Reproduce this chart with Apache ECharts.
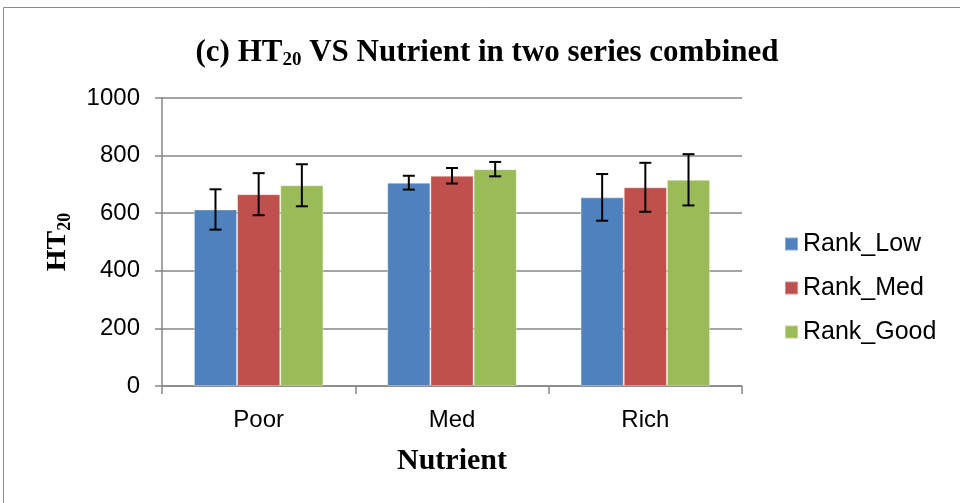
<!DOCTYPE html>
<html>
<head>
<meta charset="utf-8">
<script src="https://cdn.jsdelivr.net/npm/echarts@6/dist/echarts.min.js"></script>
<style>
  html, body { margin: 0; padding: 0; background: #fff; }
  #chart { width: 960px; height: 503px; }
</style>
</head>
<body>
<div id="chart"></div>
<script>
// data
const categories = ["Poor", "Med", "Rich"];
const seriesNames = ["Rank_Low", "Rank_Med", "Rank_Good"];
const lowValues = [613, 706, 655];
const medValues = [666, 730, 690];
const goodValues = [697, 753, 716];
const lowErr = [70, 24, 81];
const medErr = [73, 27, 85];
const goodErr = [73, 25, 89];
const yTicks = [0, 200, 400, 600, 800, 1000];

const colors = ["#4f81bd", "#c0504d", "#9bbb59"];
const values = [lowValues, medValues, goodValues];
const errors = [lowErr, medErr, goodErr];
const catGap = 0.33;

const chart = echarts.init(document.getElementById("chart"));

function errorSeries(idx) {
  return {
    type: "custom",
    name: seriesNames[idx] + "_err",
    z: 10,
    silent: true,
    data: categories.map((c, i) => [i, values[idx][i] - errors[idx][i], values[idx][i] + errors[idx][i]]),
    renderItem: function (params, api) {
      const ci = api.value(0);
      const lo = api.coord([ci, api.value(1)]);
      const hi = api.coord([ci, api.value(2)]);
      const bandW = api.size([1, 0])[0];
      const barW = bandW * (1 - catGap) / 3;
      const x = lo[0] + (idx - 1) * barW;
      const cap = 6;
      const style = { stroke: "#000", lineWidth: 2 };
      return {
        type: "group",
        children: [
          { type: "line", shape: { x1: x, y1: hi[1], x2: x, y2: lo[1] }, style: style },
          { type: "line", shape: { x1: x - cap, y1: hi[1], x2: x + cap, y2: hi[1] }, style: style },
          { type: "line", shape: { x1: x - cap, y1: lo[1], x2: x + cap, y2: lo[1] }, style: style }
        ]
      };
    }
  };
}

const barSeries = seriesNames.map((name, idx) => ({
  name: name,
  type: "bar",
  data: values[idx],
  barGap: "0%",
  barCategoryGap: (catGap * 100) + "%",
  itemStyle: { color: colors[idx], borderColor: "rgba(255,255,255,0.35)", borderWidth: 1 }
}));

const option = {
  animation: false,
  title: {
    text: "(c) HT{sub|20} VS Nutrient in two series combined",
    left: 482,
    textAlign: "center",
    top: 30,
    textStyle: {
      fontFamily: "Liberation Serif",
      fontWeight: "bold",
      fontSize: 31,
      color: "#000",
      rich: {
        sub: { fontFamily: "Liberation Serif", fontWeight: "bold", fontSize: 19, padding: [16, 0, 0, 0], color: "#000" }
      }
    }
  },
  graphic: [
    { type: "rect", shape: { x: 3.5, y: 7.5, width: 970, height: 510 }, style: { fill: "none", stroke: "#8c8c8c", lineWidth: 1 } },
    {
      type: "text",
      x: 58,
      y: 242,
      rotation: Math.PI / 2,
      style: {
        text: "HT{sub|20}",
        align: "center",
        verticalAlign: "middle",
        fontFamily: "Liberation Serif",
        fontWeight: "bold",
        fontSize: 28,
        fill: "#000",
        rich: { sub: { fontFamily: "Liberation Serif", fontWeight: "bold", fontSize: 18, padding: [14, 0, 0, 0] } }
      }
    }
  ],
  legend: {
    orient: "vertical",
    left: 779,
    top: 226,
    itemGap: 18,
    itemWidth: 13,
    itemHeight: 13,
    icon: "rect",
    data: seriesNames,
    textStyle: { fontFamily: "Liberation Sans", fontSize: 25, lineHeight: 26, color: "#000", padding: [0, 0, 0, 0] }
  },
  grid: { left: 162, right: 218, top: 98, bottom: 117, containLabel: false },
  xAxis: {
    type: "category",
    data: categories,
    name: "Nutrient",
    nameLocation: "middle",
    nameGap: 60,
    nameTextStyle: { fontFamily: "Liberation Serif", fontWeight: "bold", fontSize: 30, color: "#000" },
    axisLine: { lineStyle: { color: "#868686", width: 1.5 } },
    axisTick: { show: true, length: 8, lineStyle: { color: "#868686", width: 1.5 } },
    axisLabel: { fontFamily: "Liberation Sans", fontSize: 24, color: "#000", margin: 22 }
  },
  yAxis: {
    type: "value",
    min: yTicks[0],
    max: yTicks[yTicks.length - 1],
    interval: 200,
    axisLine: { show: true, lineStyle: { color: "#868686", width: 1.5 } },
    axisTick: { show: true, length: 7, lineStyle: { color: "#868686", width: 1.5 } },
    axisLabel: { fontFamily: "Liberation Sans", fontSize: 24, color: "#000", margin: 22, formatter: v => String(v) },
    splitLine: { lineStyle: { color: "#868686", width: 1.5 } }
  },
  series: barSeries.concat([errorSeries(0), errorSeries(1), errorSeries(2)])
};

chart.setOption(option);
</script>
</body>
</html>
